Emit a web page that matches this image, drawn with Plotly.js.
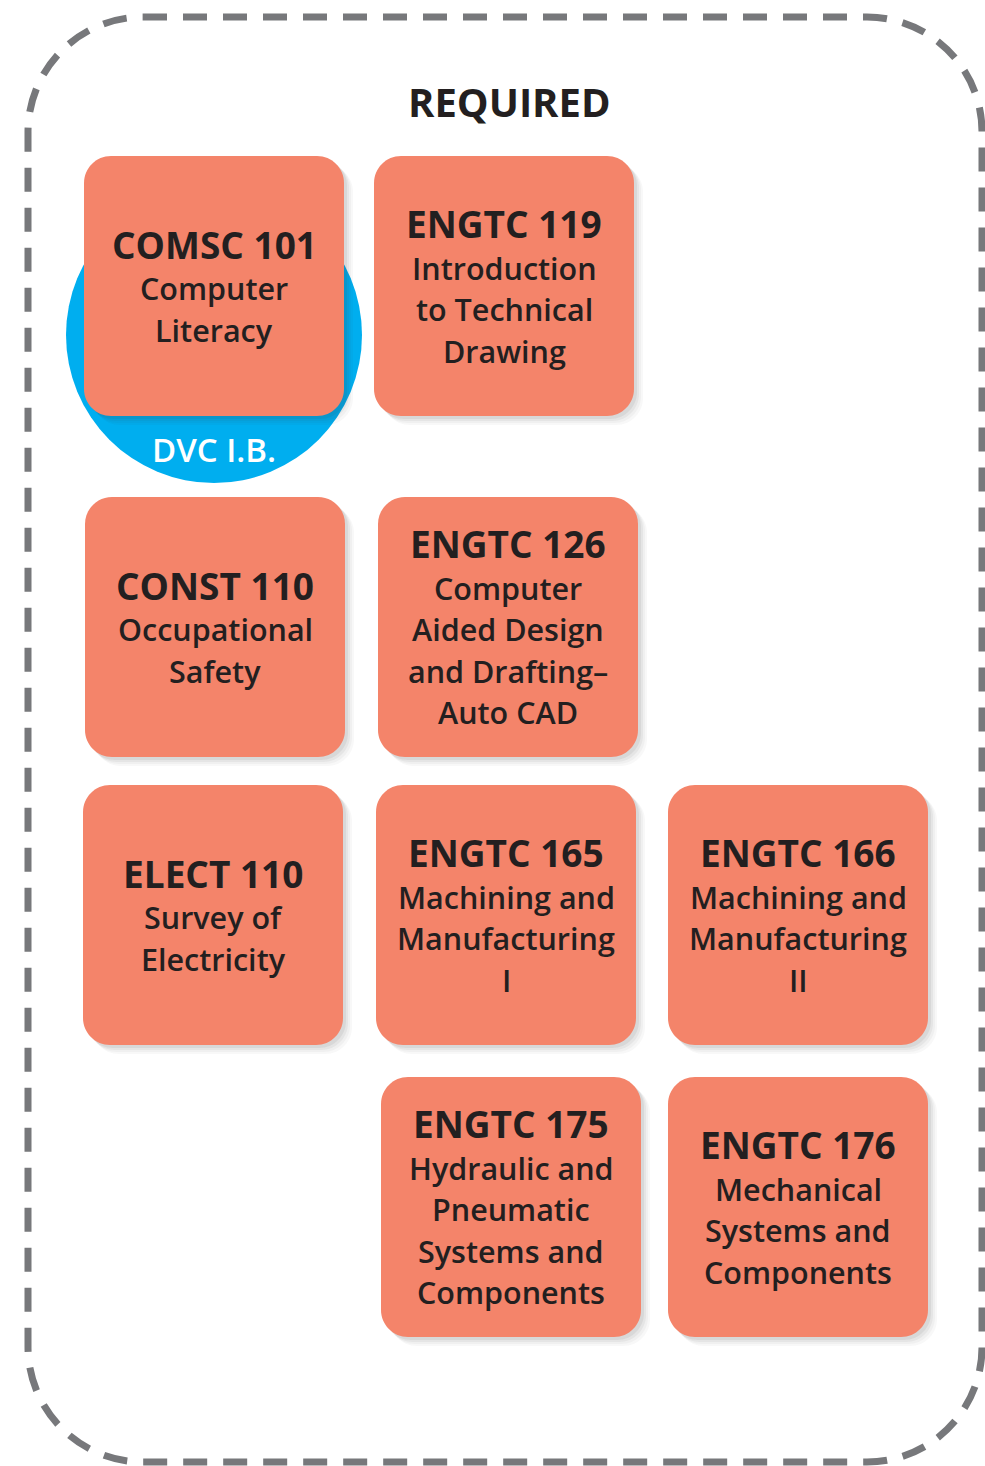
<!DOCTYPE html>
<html>
<head>
<meta charset="utf-8">
<script src="https://cdn.plot.ly/plotly-3.0.1.min.js"></script>
<style>
  html, body { margin: 0; padding: 0; background: #ffffff; }
  #chart { width: 985px; height: 1466px; }
</style>
</head>
<body>
<div id="chart"></div>
<script>
// ---- data ----
const heading = "REQUIRED";
const codes = ["COMSC 101", "ENGTC 119", "CONST 110", "ENGTC 126", "ELECT 110",
               "ENGTC 165", "ENGTC 166", "ENGTC 175", "ENGTC 176"];
const titles = [
  ["Computer", "Literacy"],
  ["Introduction", "to Technical", "Drawing"],
  ["Occupational", "Safety"],
  ["Computer", "Aided Design", "and Drafting–", "Auto CAD"],
  ["Survey of", "Electricity"],
  ["Machining and", "Manufacturing", "I"],
  ["Machining and", "Manufacturing", "II"],
  ["Hydraulic and", "Pneumatic", "Systems and", "Components"],
  ["Mechanical", "Systems and", "Components"]
];
const badgeCourse = "COMSC 101";
const badgeLabel = "DVC I.B.";

// ---- layout (positions / styles) ----
const boxLeft = [84, 374, 85, 378, 83, 376, 668, 381, 668];
const boxTop  = [156, 156, 497, 497, 785, 785, 785, 1077, 1077];
const BOX = 260, RAD = 27;
const boxColor = "#F4846A";
const textColor = "#231F20";
const fontFam = "'Open Sans', 'Noto Sans', sans-serif";

function roundRect(x0, y0, w, h, r) {
  const x1 = x0 + w, y1 = y0 + h, k = r * 0.4477;
  return `M${x0 + r},${y0} L${x1 - r},${y0} C${x1 - k},${y0} ${x1},${y0 + k} ${x1},${y0 + r} ` +
         `L${x1},${y1 - r} C${x1},${y1 - k} ${x1 - k},${y1} ${x1 - r},${y1} ` +
         `L${x0 + r},${y1} C${x0 + k},${y1} ${x0},${y1 - k} ${x0},${y1 - r} ` +
         `L${x0},${y0 + r} C${x0},${y0 + k} ${x0 + k},${y0} ${x0 + r},${y0} Z`;
}

const shapes = [];
const annotations = [];

// dashed outer frame
shapes.push({
  type: "path", xref: "x", yref: "y",
  path: roundRect(28, 17, 954, 1445, 115),
  line: { color: "#77787B", width: 7, dash: "24px,16px" },
  fillcolor: "rgba(0,0,0,0)"
});

// heading
annotations.push({
  x: 509, y: 101, xref: "x", yref: "y", text: heading, showarrow: false,
  font: { family: fontFam, size: 40, color: textColor, weight: 700 },
  xanchor: "center", yanchor: "middle"
});

codes.forEach((code, i) => {
  const x0 = boxLeft[i], y0 = boxTop[i];
  if (code === badgeCourse) {
    const cx = x0 + BOX / 2, cy = y0 + 179, r = 148;
    shapes.push({ type: "circle", xref: "x", yref: "y",
      x0: cx - r, x1: cx + r, y0: cy - r, y1: cy + r,
      fillcolor: "#00AEEF", line: { width: 0 } });
    annotations.push({ x: cx, y: y0 + 293, xref: "x", yref: "y", text: badgeLabel,
      showarrow: false, xanchor: "center", yanchor: "middle",
      font: { family: fontFam, size: 33, color: "#ffffff", weight: 600 } });
  }
  // soft shadow
  [[9, 0.035], [7, 0.045], [5, 0.06], [3, 0.07]].forEach(([o, a]) => {
    shapes.push({ type: "path", xref: "x", yref: "y",
      path: roundRect(x0 + o, y0 + o, BOX, BOX, RAD),
      fillcolor: `rgba(60,60,60,${a})`, line: { width: 0 } });
  });
  shapes.push({ type: "path", xref: "x", yref: "y",
    path: roundRect(x0, y0, BOX, BOX, RAD),
    fillcolor: boxColor, line: { width: 0 } });

  const lines = titles[i];
  const k = lines.length;
  const span = 44 + 41.5 * (k - 1);
  const cx = x0 + BOX / 2;
  const startY = y0 + BOX / 2 + 1 - span / 2;
  annotations.push({ x: cx, y: startY, xref: "x", yref: "y", text: code,
    showarrow: false, xanchor: "center", yanchor: "middle",
    font: { family: fontFam, size: 37, color: textColor, weight: 700 } });
  lines.forEach((ln, j) => {
    annotations.push({ x: cx, y: startY + 44 + 41.5 * j, xref: "x", yref: "y", text: ln,
      showarrow: false, xanchor: "center", yanchor: "middle",
      font: { family: fontFam, size: 30.5, color: textColor, weight: 600 } });
  });
});

const layout = {
  width: 985, height: 1466,
  margin: { l: 0, r: 0, t: 0, b: 0 },
  paper_bgcolor: "#ffffff", plot_bgcolor: "#ffffff",
  xaxis: { range: [0, 985], visible: false, fixedrange: true },
  yaxis: { range: [1466, 0], visible: false, fixedrange: true },
  shapes: shapes, annotations: annotations, showlegend: false
};

Plotly.newPlot("chart", [], layout, { displayModeBar: false, staticPlot: true });
</script>
</body>
</html>
